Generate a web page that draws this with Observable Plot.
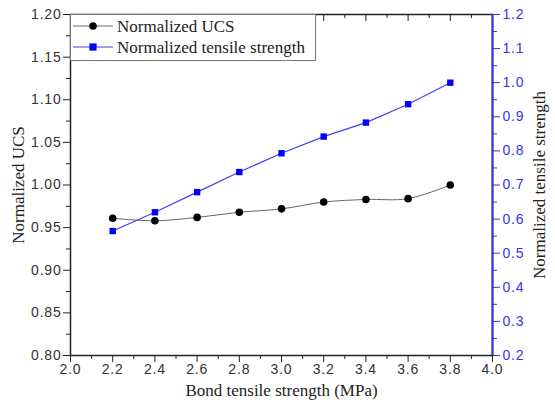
<!DOCTYPE html>
<html>
<head>
<meta charset="utf-8">
<script src="https://cdn.jsdelivr.net/npm/d3@7"></script>
<script src="https://cdn.jsdelivr.net/npm/@observablehq/plot@0.6"></script>
<style>
  html, body { margin: 0; padding: 0; background: #fff; }
  #wrap { position: relative; width: 555px; height: 405px; }
  #wrap g[aria-label$="axis tick label"] text { letter-spacing: 0.8px; }
  #legend { position: absolute; left: 70px; top: 14px; }
</style>
</head>
<body>
<div id="wrap"></div>
<script>
// ---- data ----
const bondStrength = [2.2, 2.4, 2.6, 2.8, 3.0, 3.2, 3.4, 3.6, 3.8];
const normalizedUCS = [0.961, 0.958, 0.962, 0.968, 0.972, 0.980, 0.983, 0.984, 1.000];
const normalizedTensile = [0.565, 0.620, 0.679, 0.738, 0.793, 0.842, 0.883, 0.937, 1.000];
const xTicks = [2.0, 2.2, 2.4, 2.6, 2.8, 3.0, 3.2, 3.4, 3.6, 3.8, 4.0];
const xMinor = [2.1, 2.3, 2.5, 2.7, 2.9, 3.1, 3.3, 3.5, 3.7, 3.9];
const leftTicks = [0.80, 0.85, 0.90, 0.95, 1.00, 1.05, 1.10, 1.15, 1.20];
const leftMinor = [0.825, 0.875, 0.925, 0.975, 1.025, 1.075, 1.125, 1.175];
const rightTicks = [0.2, 0.3, 0.4, 0.5, 0.6, 0.7, 0.8, 0.9, 1.0, 1.1, 1.2];
const rightMinor = [0.25, 0.35, 0.45, 0.55, 0.65, 0.75, 0.85, 0.95, 1.05, 1.15];
const seriesNames = ["Normalized UCS", "Normalized tensile strength"];
const xTitle = "Bond tensile strength (MPa)";
const yLeftTitle = "Normalized UCS";
const yRightTitle = "Normalized tensile strength";

const xDomain = [2.0, 4.0];
const leftDomain = [0.80, 1.20];
const rightDomain = [0.2, 1.2];
// map right-axis values onto the left scale
const toLeft = v => leftDomain[0] + (v - rightDomain[0]) * (leftDomain[1] - leftDomain[0]) / (rightDomain[1] - rightDomain[0]);
const fromLeft = v => rightDomain[0] + (v - leftDomain[0]) * (rightDomain[1] - rightDomain[0]) / (leftDomain[1] - leftDomain[0]);

const ucsData = bondStrength.map((x, i) => ({x, y: normalizedUCS[i]}));
const tenData = bondStrength.map((x, i) => ({x, y: toLeft(normalizedTensile[i])}));

const BLUE = "#0000ff";
const BLUE_AXIS = "#3535e6";
const SANS = "Liberation Sans, Arial, sans-serif";
const SERIF = "Liberation Serif, Times New Roman, serif";

const chart = Plot.plot({
  width: 555,
  height: 405,
  marginLeft: 70,
  marginRight: 63,
  marginTop: 14,
  marginBottom: 50,
  style: {fontFamily: SANS, fontSize: "14px", color: "#333", background: "#fff"},
  x: {domain: xDomain},
  y: {domain: leftDomain},
  marks: [
    // bottom axis
    Plot.axisX({anchor: "bottom", ticks: xTicks, tickSize: 7, tickPadding: 2, tickFormat: d3.format(".1f"), label: null, stroke: "#222", fill: "#333"}),
    Plot.axisX({anchor: "bottom", ticks: xMinor, tickSize: 4, fill: "none", stroke: "#222", label: null}),
    // top inward ticks
    Plot.axisX({anchor: "top", ticks: xTicks, tickSize: -6, fill: "none", stroke: "#222", label: null}),
    Plot.axisX({anchor: "top", ticks: xMinor, tickSize: -3, fill: "none", stroke: "#222", label: null}),
    // left axis
    Plot.axisY({anchor: "left", ticks: leftTicks, tickSize: 7, tickPadding: 2, tickFormat: d3.format(".2f"), label: null, stroke: "#222", fill: "#333"}),
    Plot.axisY({anchor: "left", ticks: leftMinor, tickSize: 4, fill: "none", stroke: "#222", label: null}),
    // right axis (blue)
    Plot.axisY({anchor: "right", ticks: rightTicks.map(toLeft), tickSize: 7, tickPadding: 3, tickFormat: d => fromLeft(d).toFixed(1), label: null, stroke: BLUE_AXIS, fill: BLUE_AXIS}),
    Plot.axisY({anchor: "right", ticks: rightMinor.map(toLeft), tickSize: 4, fill: "none", stroke: BLUE_AXIS, label: null}),
    Plot.frame({stroke: "#222", strokeWidth: 1.5}),
    Plot.ruleX([xDomain[1]], {stroke: BLUE_AXIS, strokeWidth: 2}),
    // series
    Plot.line(ucsData, {x: "x", y: "y", stroke: "#666", strokeWidth: 1, curve: "catmull-rom"}),
    Plot.dot(ucsData, {x: "x", y: "y", r: 3.8, fill: "#000", stroke: "none"}),
    Plot.line(tenData, {x: "x", y: "y", stroke: "#4040f0", strokeWidth: 1.2}),
    Plot.dot(tenData, {x: "x", y: "y", symbol: "square", r: 3.6, fill: BLUE, stroke: "none"}),
    // titles
    Plot.text([xTitle], {frameAnchor: "bottom", dy: 35, lineAnchor: "middle", textAnchor: "middle", text: d => d, fontFamily: SERIF, fontSize: 17, fill: "#222"}),
    Plot.text([yLeftTitle], {frameAnchor: "left", dx: -52, rotate: -90, lineAnchor: "middle", textAnchor: "middle", text: d => d, fontFamily: SERIF, fontSize: 17, fill: "#222"}),
    Plot.text([yRightTitle], {frameAnchor: "right", dx: 47, rotate: -90, lineAnchor: "middle", textAnchor: "middle", text: d => d, fontFamily: SERIF, fontSize: 17, fill: "#222"})
  ]
});

const wrap = document.getElementById("wrap");
wrap.appendChild(chart);

// legend
const legend = document.createElement("div");
legend.id = "legend";
const ns = "http://www.w3.org/2000/svg";
const lsvg = document.createElementNS(ns, "svg");
lsvg.setAttribute("width", 246);
lsvg.setAttribute("height", 47);
lsvg.innerHTML = `
  <rect x="0.5" y="0.5" width="245" height="46" fill="#fff" stroke="#777" stroke-width="1"/>
  <line x1="3" x2="43" y1="12" y2="12" stroke="#666" stroke-width="1"/>
  <circle cx="23" cy="12" r="3.8" fill="#000"/>
  <text x="47" y="12" dy="0.35em" font-family="${SERIF}" font-size="17" fill="#222">${seriesNames[0]}</text>
  <line x1="3" x2="43" y1="33" y2="33" stroke="#4040f0" stroke-width="1.2"/>
  <rect x="19.4" y="29.4" width="7.2" height="7.2" fill="${BLUE}"/>
  <text x="47" y="33" dy="0.35em" font-family="${SERIF}" font-size="17" fill="#222">${seriesNames[1]}</text>
`;
legend.appendChild(lsvg);
wrap.appendChild(legend);
</script>
</body>
</html>
